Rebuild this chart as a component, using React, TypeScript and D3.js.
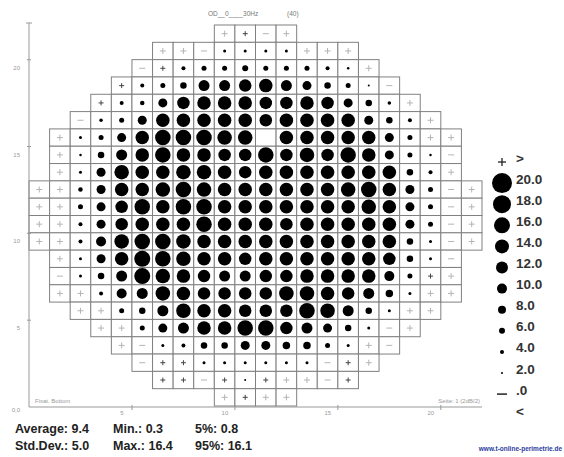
import React from "react";
import * as d3 from "d3";

const WIDTH = 564;
const HEIGHT = 457;
const CELLS = 22;
const FONT = "'Liberation Sans', Arial, sans-serif";

// first column of every row, top row first
const rowStart = [9, 6, 5, 4, 3, 2, 1, 1, 1, 0, 0, 0, 0, 1, 1, 1, 2, 3, 4, 5, 6, 9];

// threshold per cell (dB). 0 = faint "+", -1 = faint "-", null = blind spot
const sensitivity: (number | null)[][] = [
  [0, 1, -1, 0],
  [0, 0, -1, 3, 3, 3, 3, 0, 0, 0],
  [-1, 1.5, 4, 5, 5, 6, 5, 5, 5, 4, 2.5, 0],
  [1, 4, 5, 6.5, 11, 11, 12.5, 13.5, 11, 9, 6.5, 5, 2, -1],
  [1, 4, 4.5, 9, 12.5, 13.5, 13.5, 13.5, 12.5, 12.5, 13.5, 12.5, 9, 6.5, 3.5, 0],
  [-1, 3.5, 5, 9, 13.5, 13.5, 13.5, 13.5, 13.5, 12.5, 13.5, 13.5, 13.5, 13.5, 9, 6.5, 4, 0],
  [0, 3, 5, 9, 13.5, 15.5, 15.5, 15.5, 14.5, 14.5, null, 13.5, 13.5, 13.5, 13.5, 13.5, 9, 5, 0, 0],
  [0, 2.5, 6.5, 11, 13.5, 15.5, 13.5, 13.5, 12.5, 12.5, 15.5, 12.5, 14.5, 12.5, 15.5, 13.5, 9, 5, 2.5, -1],
  [0, 3, 9, 14.5, 13.5, 13.5, 14.5, 14.5, 13.5, 12.5, 13.5, 13.5, 13.5, 13.5, 13.5, 13.5, 13.5, 6.5, 4, 0],
  [0, 0, 4.5, 9, 13.5, 13.5, 14.5, 15.5, 14.5, 13.5, 13.5, 13.5, 13.5, 13.5, 13.5, 14.5, 15.5, 13.5, 9, 5, -1, 0],
  [0, 0, 5, 9, 12.5, 15.5, 13.5, 15.5, 15.5, 13.5, 13.5, 13.5, 13.5, 13.5, 13.5, 13.5, 14.5, 13.5, 9, 5, -1, 0],
  [0, 0, 4, 9, 12.5, 13.5, 13.5, 13.5, 15.5, 13.5, 13.5, 13.5, 12.5, 13.5, 13.5, 13.5, 13.5, 13.5, 9, 5, -1, 0],
  [0, 0, 4, 10, 14.5, 15.5, 15.5, 14.5, 13.5, 13.5, 13.5, 13.5, 13.5, 13.5, 13.5, 13.5, 13.5, 13.5, 6.5, 3, -1, 0],
  [0, 3, 9, 13.5, 16, 15.5, 14.5, 13.5, 13.5, 12.5, 13.5, 13.5, 13.5, 13.5, 13.5, 13.5, 12.5, 6.5, 3, -1],
  [-1, 3, 6.5, 11, 16, 14.5, 13.5, 12.5, 11, 11, 12.5, 12.5, 13.5, 13.5, 13.5, 13.5, 10, 5, 1, 0],
  [0, 0, 4, 10, 11, 14.5, 13.5, 12.5, 12.5, 12.5, 12.5, 14.5, 14.5, 13.5, 12.5, 11, 7.5, 3, 0, 0],
  [0, 0, 5, 6.5, 11, 14.5, 13.5, 13.5, 12.5, 12.5, 12.5, 15.5, 14.5, 11, 6.5, 3, 0, 0],
  [0, 0, 5, 9, 11, 13.5, 13.5, 15.5, 15.5, 12.5, 11, 9, 6.5, 3, -1, 0],
  [0, -1, 3, 4, 6.5, 6.5, 9, 9, 7.5, 7.5, 5, 3, 0, -1],
  [-1, 1.5, 1.5, 3, 3, 3, 3, 3, 3, -1, 1, 0],
  [1, 1, -1, 1, 2, 1, 0, 0, -1, 1],
  [0, 1, 0, 0],
];

const legendLabels = [">", "20.0", "18.0", "16.0", "14.0", "12.0", "10.0", "8.0", "6.0", "4.0", "2.0", ".0", "<"];
const legendValues: (number | string | null)[] = ["+", 20, 18, 16, 14, 12, 10, 8, 6, 4, 2, "-", null];

const xTicks = [5, 10, 15, 20];
const yTicks = [5, 10, 15, 20];

const statNames = ["Average:", "Std.Dev.:", "Min.:", "Max.:", "5%:", "95%:"];
const statValues = ["9.4", "5.0", "0.3", "16.4", "0.8", "16.1"];

const x = d3.scaleLinear().domain([0, CELLS]).range([29, 482]);
const yRow = d3.scaleLinear().domain([0, CELLS]).range([25, 406]);
const yAxis = d3.scaleLinear().domain([0, CELLS]).range([407, 25]);
const radius = d3.scaleLinear().domain([0, 20]).range([0, 10]);

const Marker = ({ cx, cy, v }: { cx: number; cy: number; v: number | null }) => {
  if (v === null) return null;
  if (v === 0 || v === -1) {
    return (
      <g stroke="#b4b4b4" strokeWidth={1}>
        <line x1={cx - 3} x2={cx + 3} y1={cy} y2={cy} />
        {v === 0 && <line x1={cx} x2={cx} y1={cy - 3} y2={cy + 3} />}
      </g>
    );
  }
  if (v < 2) {
    return (
      <g stroke="#444" strokeWidth={1}>
        <line x1={cx - 2.5} x2={cx + 2.5} y1={cy} y2={cy} />
        <line x1={cx} x2={cx} y1={cy - 2.5} y2={cy + 2.5} />
      </g>
    );
  }
  return <circle cx={cx} cy={cy} r={radius(v)} fill="#000" />;
};

export default function App() {
  const cw = x(1) - x(0);
  const ch = yRow(1) - yRow(0);

  const cells = sensitivity.flatMap((row, r) =>
    row.map((v, i) => {
      const c = rowStart[r] + i;
      return (
        <g key={`${r}-${c}`}>
          <rect x={x(c)} y={yRow(r)} width={cw} height={ch} fill="#fff" stroke="#808080" strokeWidth={1} />
          <Marker cx={x(c) + cw / 2} cy={yRow(r) + ch / 2} v={v} />
        </g>
      );
    })
  );

  const legend = legendLabels.map((label, i) => {
    const ly = 158 + i * 21.1;
    const s = legendValues[i];
    const sy = ly + 4;
    let sym = null;
    if (s === "+") {
      sym = (
        <g stroke="#222" strokeWidth={1.3}>
          <line x1={498} x2={506} y1={sy} y2={sy} />
          <line x1={502} x2={502} y1={sy - 4} y2={sy + 4} />
        </g>
      );
    } else if (s === "-") {
      sym = <line x1={497} x2={507} y1={sy} y2={sy} stroke="#222" strokeWidth={1.5} />;
    } else if (typeof s === "number") {
      sym = <circle cx={502} cy={sy} r={radius(s)} fill="#000" />;
    }
    return (
      <g key={label}>
        {sym}
        <text x={516} y={ly} dominantBaseline="central" fontSize={13.5} fontWeight="bold" fill="#333">
          {label}
        </text>
      </g>
    );
  });

  return (
    <svg
      width={WIDTH}
      height={HEIGHT}
      style={{ position: "absolute", left: 0, top: 0, background: "#fff" }}
      fontFamily={FONT}
    >
      <text x={208} y={16} fontSize={6.5} fill="#777">OD__0____30Hz</text>
      <text x={287} y={16} fontSize={6.5} fill="#777">(40)</text>

      {cells}

      {/* axes */}
      <g stroke="#999" strokeWidth={1}>
        <line x1={x(0)} x2={x(0)} y1={yAxis(CELLS) - 2} y2={yAxis(0)} />
        <line x1={x(0)} x2={x(CELLS)} y1={yAxis(0)} y2={yAxis(0)} />
        <line x1={x(0) - 3} x2={x(0) + 3} y1={yAxis(CELLS) - 2} y2={yAxis(CELLS) - 2} />
        {yTicks.map((t) => (
          <line key={t} x1={x(0) - 2} x2={x(0) + 2} y1={yAxis(t)} y2={yAxis(t)} />
        ))}
        {xTicks.map((t) => (
          <line key={t} x1={x(t)} x2={x(t)} y1={yAxis(0) - 2} y2={yAxis(0) + 3} />
        ))}
      </g>
      <g fontSize={6} fill="#999">
        {yTicks.map((t) => (
          <text key={t} x={20} y={yAxis(t) + 10} textAnchor="end">{t}</text>
        ))}
        {xTicks.map((t) => (
          <text key={t} x={x(t) - 10} y={yAxis(0) + 8} textAnchor="middle">{t}</text>
        ))}
        <text x={20} y={yAxis(0) + 5} textAnchor="end">0,0</text>
      </g>
      <text x={35} y={403} fontSize={6} fill="#999">Fixat. Bottom</text>
      <text x={480} y={403} fontSize={6} fill="#999" textAnchor="end">Seite: 1 (2dB/2)</text>

      {legend}

      <g fontSize={12.5} fontWeight="bold" fill="#222">
        {statNames.map((n, i) => (
          <text key={n} x={[15, 113, 195][Math.floor(i / 2)]} y={433 + (i % 2) * 17}>
            {n} {statValues[i]}
          </text>
        ))}
      </g>
      <text x={562} y={451} fontSize={6.5} fill="#2b3d9e" textAnchor="end" fontWeight="bold">
        www.t-online-perimetrie.de
      </text>
    </svg>
  );
}
